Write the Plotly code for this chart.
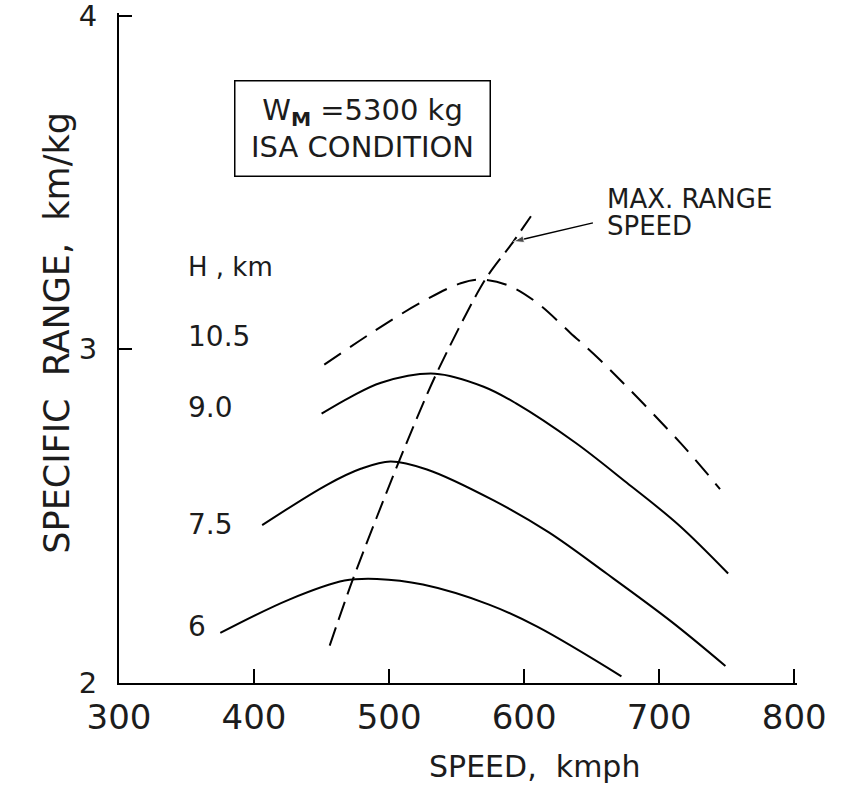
import plotly.graph_objects as go

# ---- data (speed in km/h, specific range in km/kg) ----
speed_h6 = [375, 426, 467, 491, 525, 574, 610, 672]
sr_h6 = [2.15, 2.25, 2.307, 2.312, 2.295, 2.235, 2.168, 2.02]

speed_h75 = [406, 454, 479, 501, 528, 577, 618, 661, 709, 749]
sr_h75 = [2.473, 2.594, 2.642, 2.664, 2.640, 2.548, 2.452, 2.328, 2.184, 2.051]

speed_h9 = [450, 471, 494, 534, 570, 594, 638, 676, 714, 751]
sr_h9 = [2.807, 2.856, 2.90, 2.927, 2.888, 2.838, 2.72, 2.60, 2.475, 2.328]

speed_h105 = [452, 488, 523, 553, 568, 588, 610, 634, 657, 716, 745]
sr_h105 = [2.954, 3.052, 3.139, 3.198, 3.209, 3.192, 3.138, 3.050, 2.965, 2.718, 2.581]

speed_maxr = [456, 473, 508, 535, 571, 592, 605]
sr_maxr = [2.112, 2.309, 2.671, 2.927, 3.208, 3.323, 3.399]

arrow_speed = [650.9, 592.1]
arrow_sr = [3.379, 3.323]

altitude_labels = ["10.5", "9.0", "7.5", "6"]
altitude_label_sr = [3.037, 2.826, 2.476, 2.169]
label_speed = 349.3

x_ticks = [300, 400, 500, 600, 700, 800]
y_ticks = [2, 3, 4]

FONT = "DejaVu Sans"
INK = "#1c1c1c"

fig = go.Figure()

solid = dict(color="black", width=2, shape="spline", smoothing=1.0)
for xs, ys in [(speed_h6, sr_h6), (speed_h75, sr_h75), (speed_h9, sr_h9)]:
    fig.add_trace(go.Scatter(x=xs, y=ys, mode="lines", line=solid,
                             showlegend=False, hoverinfo="skip"))

fig.add_trace(go.Scatter(x=speed_h105, y=sr_h105, mode="lines",
                         line=dict(color="black", width=2, shape="spline",
                                   smoothing=1.0, dash="20px,11px"),
                         showlegend=False, hoverinfo="skip"))
fig.add_trace(go.Scatter(x=speed_maxr, y=sr_maxr, mode="lines",
                         line=dict(color="black", width=2, shape="spline",
                                   smoothing=0.8, dash="19px,8px"),
                         showlegend=False, hoverinfo="skip"))
# pointer arrow to the max range speed line
fig.add_trace(go.Scatter(x=arrow_speed, y=arrow_sr, mode="lines+markers",
                         line=dict(color="black", width=1.5),
                         marker=dict(symbol=["circle", "arrow"], size=[0, 11],
                                     angleref="previous", color="black"),
                         showlegend=False, hoverinfo="skip"))

ann = []
# box with weight and condition
ann.append(dict(x=480.2, y=3.661, xref="x", yref="y",
                text="W<sub><b>M</b></sub> =5300 kg<br>ISA CONDITION",
                showarrow=False, font=dict(family=FONT, size=29, color=INK),
                bordercolor="black", borderwidth=1.5, borderpad=9,
                width=236, height=76, align="center", bgcolor="white"))
# H, km label
ann.append(dict(x=label_speed, y=3.248, xref="x", yref="y", text="H , km",
                showarrow=False, xanchor="left", yanchor="middle",
                font=dict(family=FONT, size=26, color=INK)))
for t, yv in zip(altitude_labels, altitude_label_sr):
    ann.append(dict(x=label_speed, y=yv, xref="x", yref="y", text=t,
                    showarrow=False, xanchor="left", yanchor="middle",
                    font=dict(family=FONT, size=28, color=INK)))
# max range speed label
ann.append(dict(x=659.5, y=3.450, xref="x", yref="y", text="MAX. RANGE",
                showarrow=False, xanchor="left", yanchor="middle",
                font=dict(family=FONT, size=26, color=INK)))
ann.append(dict(x=659.7, y=3.369, xref="x", yref="y", text="SPEED",
                showarrow=False, xanchor="left", yanchor="middle",
                font=dict(family=FONT, size=26, color=INK)))
# axis titles
ann.append(dict(x=607.8, y=0, xref="x", yref="paper", yshift=-83,
                text="SPEED,  kmph", showarrow=False, yanchor="middle",
                font=dict(family=FONT, size=30, color=INK)))
ann.append(dict(x=0, y=3.05, xref="paper", yref="y", xshift=-62,
                text="SPECIFIC  RANGE,  km/kg", showarrow=False,
                textangle=-90, xanchor="center", yanchor="middle",
                font=dict(family=FONT, size=35, color=INK)))

fig.update_layout(
    width=845, height=786,
    margin=dict(l=119, r=48, t=13, b=103, autoexpand=False),
    paper_bgcolor="white", plot_bgcolor="white",
    annotations=ann,
    xaxis=dict(range=[300, 802], showline=True, linecolor="black",
               linewidth=2, ticks="inside", ticklen=14, tickwidth=1.5,
               tickcolor="black", tickvals=x_ticks,
               ticktext=[str(v) for v in x_ticks], automargin=False,
               showgrid=False, zeroline=False, ticklabelstandoff=3,
               ticklabeloverflow="allow",
               tickfont=dict(family=FONT, size=34, color=INK)),
    yaxis=dict(range=[2, 4.008], showline=True, linecolor="black",
               linewidth=2, ticks="inside", ticklen=13, tickwidth=1.5,
               tickcolor="black", tickvals=y_ticks,
               ticktext=[str(v) for v in y_ticks], automargin=False,
               showgrid=False, zeroline=False, ticklabelstandoff=14,
               ticklabeloverflow="allow",
               tickfont=dict(family=FONT, size=29, color=INK)),
)

fig.write_html("out.html", config={"displayModeBar": False},
               post_script="document.body.style.margin='0px';")
